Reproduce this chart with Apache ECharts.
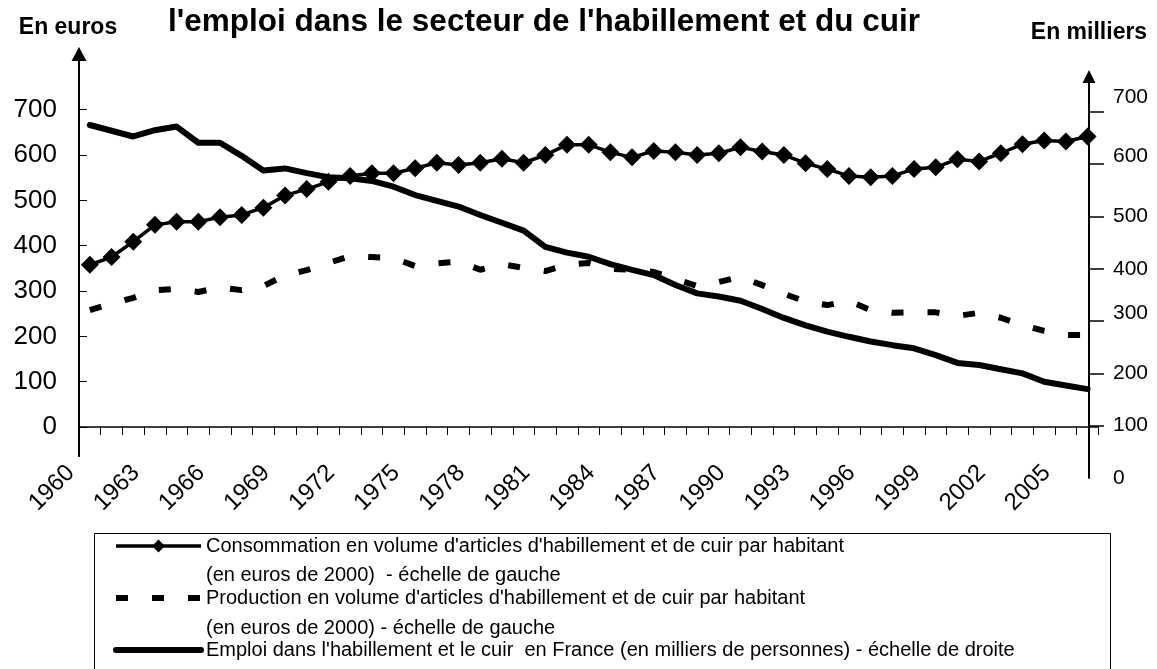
<!DOCTYPE html>
<html>
<head>
<meta charset="utf-8">
<script src="https://cdn.jsdelivr.net/npm/echarts@6/dist/echarts.min.js"></script>
<style>
  html, body { margin: 0; padding: 0; background: #fff; }
  #chart { width: 1157px; height: 669px; }
</style>
</head>
<body>
<div id="chart"></div>
<script>
// years 1960 - 2006
var years = [];
for (var y = 1960; y <= 2006; y++) years.push(String(y));

// consommation par habitant (euros de 2000) - echelle de gauche
var conso = [358, 375, 409, 446, 453, 453, 463, 468, 484, 511,
  525, 541, 554, 560, 560, 571, 583, 578, 583, 592,
  583, 600, 623, 623, 606, 595, 609, 606, 600, 604,
  617, 608, 600, 582, 569, 554, 551, 554, 569, 573,
  591, 586, 604, 624, 632, 630, 641];

// production par habitant (euros de 2000) - echelle de gauche
var production = [258, 272, 285, 302, 305, 298, 308, 302, 311, 335,
  346, 362, 377, 375, 373, 355, 361, 365, 347, 359,
  351, 344, 358, 362, 349, 347, 342, 327, 311, 320,
  331, 313, 294, 277, 269, 278, 258, 252, 253, 253,
  245, 252, 241, 225, 212, 203, 203];

// emploi (milliers de personnes) - echelle de droite
var emploi = [675, 664, 653, 665, 672, 641, 641, 616, 588, 592,
  583, 575, 573, 568, 557, 541, 530, 519, 503, 488,
  473, 442, 431, 423, 409, 398, 388, 369, 353, 347,
  339, 323, 306, 292, 280, 270, 261, 254, 248, 235,
  220, 216, 208, 200, 184, 177, 170];

var leftTicks = [0, 100, 200, 300, 400, 500, 600, 700];
var rightTicks = [100, 200, 300, 400, 500, 600, 700];
var rightLabels = [0, 100, 200, 300, 400, 500, 600, 700];

var nameConso = "Consommation en volume d'articles d'habillement et de cuir par habitant";
var nameProd = "Production en volume d'articles d'habillement et de cuir par habitant";
var nameEmploi = "Emploi dans l'habillement et le cuir  en France (en milliers de personnes) - échelle de droite";

var font = '"Liberation Sans", Arial, sans-serif';

var myChart = echarts.init(document.getElementById('chart'));

var option = {
  animation: false,
  textStyle: { fontFamily: font, color: '#000' },
  grid: [
    { left: 79, right: 58.6, top: 54, bottom: 242 },
    { left: 79, right: 58.6, top: 76.5, bottom: 191 }
  ],
  xAxis: [
    {
      type: 'category',
      gridIndex: 0,
      data: years,
      boundaryGap: true,
      axisLine: { show: true, onZero: false, lineStyle: { color: '#000', width: 1.5 } },
      axisTick: { show: true, interval: 0, length: 8, lineStyle: { color: '#000', width: 1 } },
      axisLabel: {
        interval: 2, rotate: 45, fontSize: 24, color: '#000', fontFamily: font,
        margin: 23, padding: [0, 27, 0, 0]
      },
      splitLine: { show: false }
    },
    {
      type: 'category',
      gridIndex: 1,
      data: years,
      boundaryGap: true,
      show: false
    }
  ],
  yAxis: [
    {
      type: 'value',
      gridIndex: 0,
      position: 'left',
      min: 0,
      max: 823,
      axisLine: { show: true, symbol: ['none', 'triangle'], symbolSize: [15, 14],
        lineStyle: { color: '#000', width: 2 } },
      axisTick: { show: true, inside: true, length: 8, customValues: leftTicks,
        lineStyle: { color: '#000', width: 1 } },
      axisLabel: { customValues: leftTicks, fontSize: 26, color: '#000', margin: 22, fontFamily: font },
      splitLine: { show: false }
    },
    {
      type: 'value',
      gridIndex: 1,
      position: 'right',
      offset: -9.4,
      min: 0,
      max: 767.7,
      axisLine: { show: true, symbol: ['none', 'triangle'], symbolSize: [13, 13],
        lineStyle: { color: '#000', width: 2 } },
      axisTick: { show: true, inside: false, length: 15, customValues: rightTicks,
        lineStyle: { color: '#000', width: 1.5 } },
      axisLabel: {
        customValues: rightLabels, fontSize: 21, color: '#000', margin: 24, fontFamily: font,
        // the labels of the original sit a bit above some of the ticks
        formatter: function (v) {
          if (v === 700) return '{up15|' + v + '}';
          if (v === 600 || v === 300) return '{up8|' + v + '}';
          return '' + v;
        },
        rich: {
          up15: { fontSize: 21, padding: [0, 0, 30, 0] },
          up8: { fontSize: 21, padding: [0, 0, 16, 0] }
        }
      },
      splitLine: { show: false }
    }
  ],
  legend: {
    orient: 'vertical',
    left: 113,
    top: 535,
    padding: 0,
    itemWidth: 85,
    itemHeight: 16,
    itemGap: 30,
    selectedMode: false,
    textStyle: { fontSize: 20, color: '#000', fontFamily: font, lineHeight: 22 },
    data: [
      { name: nameConso, lineStyle: { width: 3.5 } },
      { name: nameProd, itemStyle: { opacity: 0 }, lineStyle: { width: 6 } },
      { name: nameEmploi, itemStyle: { opacity: 0 }, lineStyle: { width: 6 } }
    ]
  },
  graphic: [
    { type: 'text', x: 544, y: 22, z: 10,
      style: { text: "l'emploi dans le secteur de l'habillement et du cuir", font: 'bold 31.5px ' + font,
        fill: '#000', align: 'center', verticalAlign: 'middle' } },
    { type: 'text', x: 68, y: 28, z: 10,
      style: { text: 'En euros', font: 'bold 23px ' + font, fill: '#000', align: 'center', verticalAlign: 'middle' } },
    { type: 'text', x: 1089, y: 33, z: 10,
      style: { text: 'En milliers', font: 'bold 23px ' + font, fill: '#000', align: 'center', verticalAlign: 'middle' } },
    // left axis continues a little below the category axis
    { type: 'line', shape: { x1: 79, y1: 427, x2: 79, y2: 457 }, z: 10,
      style: { stroke: '#000', lineWidth: 2 } },
    { type: 'rect', shape: { x: 94.5, y: 533.5, width: 1016, height: 200 }, z: 1,
      style: { fill: null, stroke: '#000', lineWidth: 1 } },
    { type: 'text', x: 206, y: 575, z: 10,
      style: { text: '(en euros de 2000)  - échelle de gauche', font: '20px ' + font, fill: '#000', verticalAlign: 'middle' } },
    { type: 'text', x: 206, y: 628, z: 10,
      style: { text: '(en euros de 2000) - échelle de gauche', font: '20px ' + font, fill: '#000', verticalAlign: 'middle' } }
  ],
  series: [
    {
      name: nameEmploi,
      type: 'line',
      xAxisIndex: 1,
      yAxisIndex: 1,
      data: emploi,
      symbol: 'none',
      z: 2,
      lineStyle: { color: '#000', width: 6, join: 'round', cap: 'round' },
      itemStyle: { color: '#000' }
    },
    {
      name: nameProd,
      type: 'line',
      xAxisIndex: 0,
      yAxisIndex: 0,
      data: production,
      symbol: 'none',
      z: 3,
      lineStyle: { color: '#000', width: 6, type: [12, 24], cap: 'butt' },
      itemStyle: { color: '#000' }
    },
    {
      name: nameConso,
      type: 'line',
      xAxisIndex: 0,
      yAxisIndex: 0,
      data: conso,
      symbol: 'diamond',
      symbolSize: 18,
      showAllSymbol: true,
      z: 4,
      lineStyle: { color: '#000', width: 3.5 },
      itemStyle: { color: '#000' }
    }
  ]
};

option && myChart.setOption(option);
</script>
</body>
</html>
